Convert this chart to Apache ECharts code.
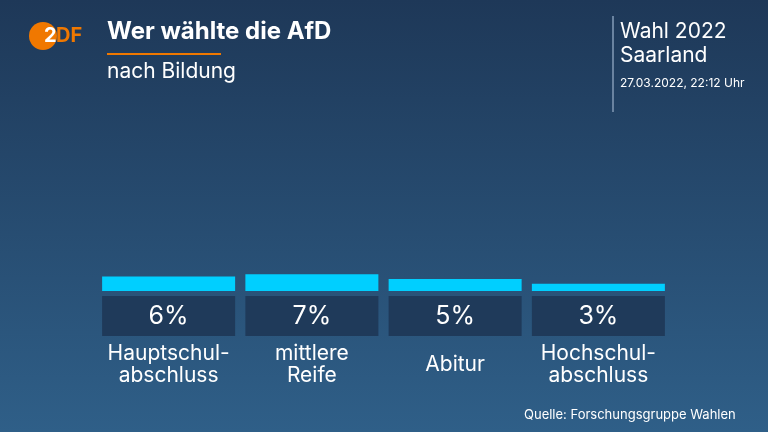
<!DOCTYPE html>
<html>
<head>
<meta charset="utf-8">
<script src="https://cdn.jsdelivr.net/npm/echarts@6/dist/echarts.min.js"></script>
<style>
  html, body { margin: 0; padding: 0; }
  #chart { width: 768px; height: 432px; }
</style>
</head>
<body>
<div id="chart"></div>
<script>
// Wahlergebnis AfD nach Bildung (Saarland 2022)
const categories = ['Hauptschul-\nabschluss', 'mittlere\nReife', 'Abitur', 'Hochschul-\nabschluss'];
const shares = [6, 7, 5, 3];
const yMax = 40;

const font = 'Inter, "Noto Sans", sans-serif';

const chart = echarts.init(document.getElementById('chart'));

chart.setOption({
  backgroundColor: {
    type: 'linear', x: 0, y: 0, x2: 0, y2: 1,
    colorStops: [
      { offset: 0, color: '#1e3858' },
      { offset: 1, color: '#2f5f88' }
    ]
  },
  textStyle: { fontFamily: font },
  grid: { left: 97, right: 98, top: 195, bottom: 141 },
  xAxis: {
    type: 'category',
    data: categories,
    axisLine: { show: false },
    axisTick: { show: false },
    axisLabel: {
      interval: 0,
      color: '#ffffff',
      fontSize: 21,
      lineHeight: 22,
      margin: 74,
      verticalAlign: 'middle',
      fontFamily: font
    }
  },
  yAxis: {
    type: 'value',
    min: 0,
    max: yMax,
    show: false
  },
  series: [{
    type: 'bar',
    data: shares,
    barWidth: 133,
    itemStyle: { color: '#00cfff' },
    label: {
      show: true,
      position: 'bottom',
      distance: 5,
      formatter: '{c}%',
      width: 133,
      height: 40,
      lineHeight: 40,
      align: 'center',
      backgroundColor: '#1f3a5a',
      color: '#ffffff',
      fontSize: 25,
      fontFamily: font
    },
    silent: true
  }],
  graphic: [
    // ZDF logo
    { type: 'circle', shape: { cx: 43, cy: 36, r: 14 }, style: { fill: '#f07800' } },
    { type: 'text', left: 44, top: 26, style: { text: '2', fill: '#ffffff', font: 'bold 20px ' + font } },
    { type: 'text', left: 56, top: 26, style: { text: 'DF', fill: '#f07800', font: 'bold 20px ' + font } },
    // Titel
    { type: 'text', left: 107, top: 20, style: { text: 'Wer wählte die AfD', fill: '#ffffff', font: 'bold 24px ' + font } },
    { type: 'rect', shape: { x: 107, y: 53, width: 114, height: 2 }, style: { fill: '#f07800' } },
    { type: 'text', left: 107, top: 61, style: { text: 'nach Bildung', fill: '#ffffff', font: '21px ' + font } },
    // Wahl-Info rechts
    { type: 'rect', shape: { x: 612, y: 16, width: 2, height: 96 }, style: { fill: '#6a83a0' } },
    { type: 'text', left: 620, top: 21, style: { text: 'Wahl 2022', fill: '#ffffff', font: '21px ' + font } },
    { type: 'text', left: 620, top: 45, style: { text: 'Saarland', fill: '#ffffff', font: '21px ' + font } },
    { type: 'text', left: 620, top: 77, style: { text: '27.03.2022, 22:12 Uhr', fill: '#ffffff', font: '12px ' + font } },
    // Quelle
    { type: 'text', left: 524, top: 409, style: { text: 'Quelle: Forschungsgruppe Wahlen', fill: '#ffffff', font: '13px ' + font } }
  ]
});
</script>
</body>
</html>
